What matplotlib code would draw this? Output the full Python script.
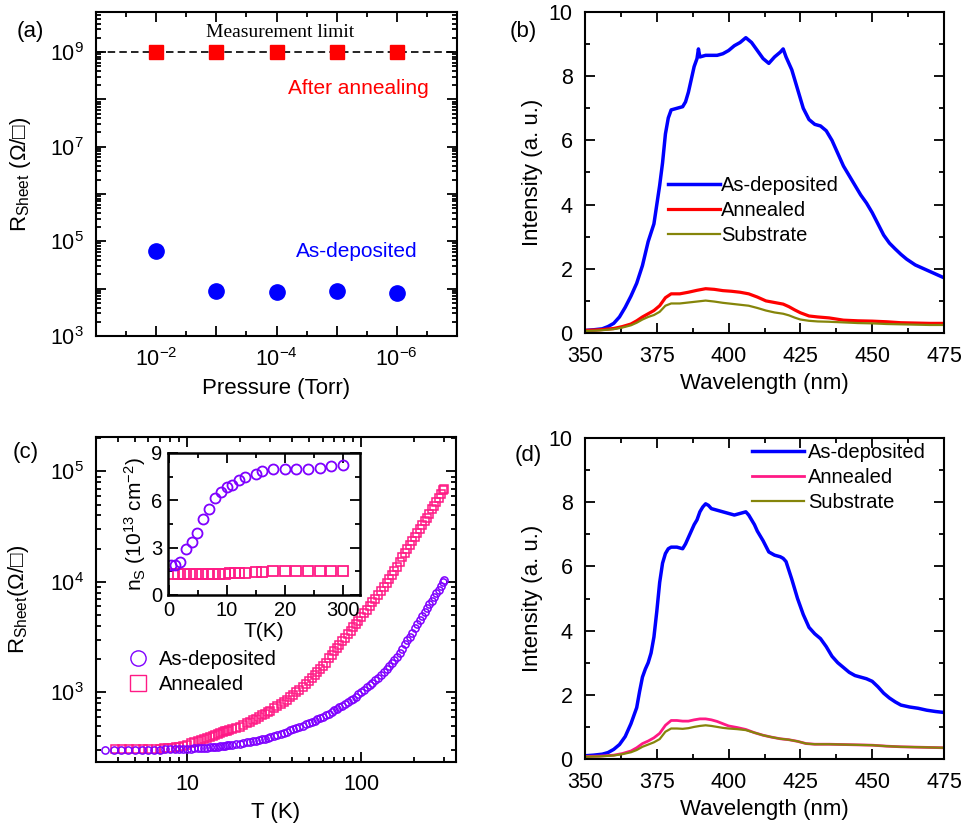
import numpy as np
import matplotlib
matplotlib.use('Agg')
import matplotlib.pyplot as plt
from matplotlib.ticker import FixedLocator, FuncFormatter, MultipleLocator, NullFormatter
from matplotlib.lines import Line2D

plt.rcParams['font.family'] = ['Liberation Sans', 'DejaVu Sans']
plt.rcParams['mathtext.fontset'] = 'custom'
plt.rcParams['mathtext.rm'] = 'Liberation Sans'
plt.rcParams['mathtext.it'] = 'Liberation Sans:italic'
plt.rcParams['mathtext.bf'] = 'Liberation Sans:bold'
plt.rcParams['axes.linewidth'] = 1.5

# ---------------- data ----------------
# (a) sheet resistance vs deposition pressure
pressure = [1e-2, 1e-3, 1e-4, 1e-5, 1e-6]
R_asdep_a = [6.3e4, 9.0e3, 8.4e3, 9.0e3, 8.1e3]
R_anneal_a = [1e9, 1e9, 1e9, 1e9, 1e9]
meas_limit = 1e9

# (b) PL spectra
wl_b = [350, 353, 356, 358, 360, 362, 364, 366, 368, 370, 372, 374, 376, 377, 378,
        379, 380, 382, 384, 385, 386, 387, 388, 389, 389.5, 390, 392, 394, 396, 398,
        400, 402, 404, 406, 408, 410, 412, 414, 416, 418, 419, 420, 422, 424, 426,
        428, 430, 432, 434, 436, 438, 440, 442, 444, 446, 448, 450, 452, 454, 456,
        458, 460, 462, 465, 468, 471, 475]
asdep_b = [0.08, 0.1, 0.13, 0.2, 0.3, 0.5, 0.8, 1.15, 1.55, 2.1, 2.85, 3.4, 4.6, 5.3, 6.2,
           6.7, 6.95, 7.0, 7.05, 7.2, 7.5, 7.9, 8.3, 8.55, 8.85, 8.6, 8.65, 8.65, 8.65, 8.7,
           8.8, 8.95, 9.05, 9.2, 9.05, 8.8, 8.55, 8.4, 8.6, 8.75, 8.85, 8.6, 8.2, 7.6, 7.0,
           6.65, 6.5, 6.45, 6.3, 6.0, 5.6, 5.2, 4.9, 4.6, 4.3, 4.05, 3.75, 3.4, 3.05, 2.8,
           2.62, 2.45, 2.3, 2.12, 2.0, 1.88, 1.72]
wl_b2 = [350, 355, 360, 363, 366, 368, 370, 372, 374, 376, 378, 380, 383, 386, 389,
         392, 395, 398, 401, 404, 407, 410, 413, 416, 419, 421, 423, 425, 428, 431,
         435, 440, 445, 450, 455, 460, 465, 470, 475]
anneal_b = [0.08, 0.1, 0.14, 0.2, 0.28, 0.38, 0.5, 0.6, 0.7, 0.85, 1.1, 1.22, 1.22, 1.27, 1.33,
            1.38, 1.36, 1.32, 1.3, 1.27, 1.22, 1.12, 1.0, 0.95, 0.9, 0.82, 0.72, 0.63, 0.53, 0.5,
            0.47, 0.4, 0.38, 0.37, 0.35, 0.32, 0.31, 0.3, 0.3]
subst_b = [0.06, 0.08, 0.12, 0.17, 0.24, 0.32, 0.42, 0.5, 0.56, 0.66, 0.85, 0.92, 0.92, 0.95, 0.98,
           1.01, 0.98, 0.94, 0.91, 0.88, 0.85, 0.78, 0.7, 0.64, 0.6, 0.55, 0.48, 0.42, 0.38, 0.36,
           0.35, 0.33, 0.31, 0.3, 0.28, 0.27, 0.26, 0.25, 0.25]

# (c) R_sheet vs T
T_asdep = [3.4, 3.8, 4.2, 4.6, 5.0, 5.5, 6.0, 6.5, 7.0, 7.5, 8.0, 8.5, 9.0, 9.5,
           10, 10.5, 11, 11.5, 12, 12.5, 13, 13.5, 14, 14.5,
           15, 15.5, 16, 16.5, 17, 17.5, 18, 19, 20, 21,
           22, 23, 24, 25, 26, 27, 28, 29, 30, 31.5,
           33, 34.5, 36, 37.5, 39, 40.5, 42, 44, 46, 48,
           50, 52, 54, 56, 58, 60, 62.5, 65, 67.5, 70,
           72.5, 75, 78, 81, 84, 87, 90, 93, 96, 100,
           104, 108, 112, 116, 120, 125, 130, 135, 140, 145,
           150, 155, 160, 166, 172, 178, 184, 190, 196, 203,
           210, 217, 224, 231, 238, 246, 254, 262, 270, 278,
           286, 294, 300]
R_asdep = [303, 303, 303, 303, 303, 303, 304, 304, 304, 305, 305, 305, 306, 307,
           308, 310, 312, 313, 314, 315.5, 317, 318, 319, 321,
           323, 325.5, 328, 330, 332, 334.5, 337, 341, 345, 349.5,
           354, 358.5, 363, 367.5, 372, 377.5, 383, 389, 395, 403,
           413, 423, 433, 443, 453, 463, 473, 487, 502, 515,
           528, 542, 556, 572, 588, 604, 624, 644, 667, 690,
           711, 732, 758, 786, 815, 847, 880, 918, 965, 1010,
           1055, 1115, 1170, 1230, 1285, 1360, 1445, 1540, 1640, 1740,
           1855, 1975, 2100, 2280, 2480, 2720, 2960, 3200, 3460, 3800,
           4150, 4550, 4950, 5350, 5800, 6260, 6780, 7330, 7900, 8500,
           9200, 10000, 10500]
T_anneal = [3.85, 4.25, 4.65, 5.1, 5.55, 6.0, 6.6, 7.0, 7.4, 7.8, 8.2, 8.6, 9.0, 9.5,
            10, 10.5, 11, 11.5, 12, 12.5, 13, 13.5, 14, 14.5,
            15, 15.5, 16, 16.5, 17, 17.5, 18, 19, 20, 21,
            22, 23, 24, 25, 26, 27, 28, 29, 30, 31.5,
            33, 34.5, 36, 37.5, 39, 40.5, 42, 44, 46, 48,
            50, 52, 54, 56, 58, 60, 62.5, 65, 67.5, 70,
            72.5, 75, 78, 81, 84, 87, 90, 93, 96, 100,
            104, 108, 112, 116, 120, 125, 130, 135, 140, 145,
            150, 155, 160, 166, 172, 178, 184, 190, 196, 203,
            210, 217, 224, 231, 238, 246, 254, 262, 270, 278,
            286, 294, 300]
R_anneal = [306, 306, 306, 306, 306, 307, 309, 310, 312, 314, 317, 320, 324, 330,
            337, 346, 355, 363, 372, 381, 390, 399, 408, 416,
            424, 431, 438, 444, 450, 456, 463, 477, 490, 508,
            526, 544, 562, 581, 600, 620, 640, 661, 683, 718,
            755, 792, 826, 864, 905, 950, 1000, 1060, 1130, 1205,
            1280, 1360, 1440, 1530, 1620, 1720, 1860, 2040, 2190, 2350,
            2520, 2700, 2920, 3140, 3370, 3620, 3900, 4170, 4440, 4800,
            5200, 5600, 6050, 6530, 7020, 7600, 8250, 8950, 9800, 10650,
            11600, 12650, 13800, 15200, 16700, 18300, 19900, 21500, 23300, 25400,
            27700, 30100, 32700, 35400, 38200, 41600, 45300, 49000, 53300, 57700,
            62300, 67500, 70000]

# (c) inset: carrier density
Tin_asdep = [0.3, 1.0, 1.9, 2.9, 3.9, 4.9, 5.9, 6.95, 8.0, 8.96, 9.95, 10.8, 12.07, 13.1,
             15.0, 16.0, 18.0, 20.0, 22.0, 24.0, 26.0, 28.0, 300]
ns_asdep = [1.9, 1.88, 2.1, 2.9, 3.34, 3.93, 4.8, 5.45, 6.13, 6.53, 6.86, 7.0, 7.29, 7.46,
            7.67, 7.86, 7.98, 8.0, 8.0, 8.0, 8.05, 8.17, 8.24]
Tin_anneal = [0.63, 1.6, 2.6, 3.6, 4.66, 5.6, 6.7, 7.6, 8.7, 9.66, 10.5, 11.4, 12.07, 13.1,
              15.1, 16.0, 18.0, 20.0, 22.0, 24.0, 26.0, 28.0, 300]
ns_anneal = [1.3, 1.3, 1.31, 1.31, 1.32, 1.32, 1.33, 1.34, 1.35, 1.36, 1.37, 1.38, 1.4, 1.42,
             1.46, 1.48, 1.5, 1.52, 1.52, 1.52, 1.52, 1.52, 1.53]
inset_xticks = [0, 10, 20, 300]

# (d) PL spectra
wl_d = [350, 353, 356, 358, 360, 362, 364, 366, 368, 369, 370, 371, 372, 373, 374,
        375, 376, 377, 378, 379, 380, 382, 384, 385, 386, 387, 388, 389, 390, 391,
        392, 393, 394, 396, 398, 400, 402, 404, 406, 407, 408, 409, 410, 412, 414,
        416, 418, 419, 420, 422, 424, 426, 428, 430, 432, 434, 436, 438, 440, 442,
        444, 446, 448, 450, 452, 454, 456, 458, 460, 463, 466, 469, 472, 475]
asdep_d = [0.1, 0.12, 0.15, 0.2, 0.3, 0.45, 0.7, 1.1, 1.6, 2.1, 2.55, 2.8, 3.0, 3.3, 3.8,
           4.6, 5.5, 6.1, 6.4, 6.55, 6.6, 6.6, 6.55, 6.7, 6.9, 7.1, 7.3, 7.45, 7.7, 7.85,
           7.95, 7.9, 7.8, 7.75, 7.7, 7.65, 7.6, 7.65, 7.7, 7.6, 7.45, 7.3, 7.1, 6.8, 6.45,
           6.35, 6.3, 6.25, 6.15, 5.6, 5.0, 4.5, 4.1, 3.9, 3.75, 3.5, 3.2, 3.0, 2.85, 2.7,
           2.6, 2.55, 2.5, 2.42, 2.25, 2.05, 1.9, 1.78, 1.68, 1.62, 1.58, 1.52, 1.48, 1.45]
wl_d2 = [350, 355, 360, 363, 366, 368, 370, 372, 374, 376, 378, 380, 382, 384, 386, 388,
         390, 392, 394, 396, 398, 400, 403, 406, 409, 412, 415, 418, 421, 424, 427, 430,
         435, 440, 445, 450, 455, 460, 465, 470, 475]
anneal_d = [0.08, 0.09, 0.12, 0.17, 0.25, 0.35, 0.48, 0.56, 0.66, 0.8, 1.05, 1.2, 1.2, 1.18, 1.18,
            1.22, 1.25, 1.25, 1.22, 1.17, 1.1, 1.03, 0.98, 0.92, 0.82, 0.74, 0.68, 0.63, 0.6, 0.55,
            0.48, 0.46, 0.46, 0.45, 0.44, 0.43, 0.4, 0.38, 0.37, 0.36, 0.35]
subst_d = [0.07, 0.08, 0.11, 0.15, 0.21, 0.28, 0.38, 0.45, 0.52, 0.62, 0.85, 0.95, 0.95, 0.94, 0.96,
           1.0, 1.03, 1.05, 1.03, 1.0, 0.97, 0.95, 0.93, 0.9, 0.82, 0.74, 0.68, 0.63, 0.6, 0.55,
           0.48, 0.46, 0.46, 0.45, 0.44, 0.43, 0.4, 0.38, 0.37, 0.36, 0.35]

# ---------------- style ----------------
BLUE = '#0000ff'
RED = '#ff0000'
OLIVE = '#85850a'
PURPLE = '#7f00ff'
PINK = '#ff1a85'
TICK_FS = 15.5
LAB_FS = 16

W, H = 964, 826
fig = plt.figure(figsize=(W / 100, H / 100), dpi=100)


def px_axes(l, t, r, b):
    return fig.add_axes([l / W, 1 - b / H, (r - l) / W, (b - t) / H])


def style(ax, pad=9, size=TICK_FS):
    ax.tick_params(which='both', direction='in', top=True, right=True, width=1.3,
                   labelsize=size, pad=pad)
    ax.tick_params(which='major', length=7)
    ax.tick_params(which='minor', length=3.5)


def pow_fmt(show):
    def f(v, pos):
        if v <= 0:
            return ''
        e = int(round(np.log10(v)))
        return r'$10^{%d}$' % e if e in show else ''
    return FuncFormatter(f)


# ---------------- (a) ----------------
axa = px_axes(96, 12, 457, 336)
axa.set_xscale('log')
axa.set_yscale('log')
axa.axhline(meas_limit, color='k', lw=1.2, ls=(0, (4.5, 2.5)))
axa.plot(pressure, R_anneal_a, 's', color=RED, ms=10, zorder=3)
axa.plot(pressure, R_asdep_a, 'o', color=BLUE, ms=11, zorder=3)
axa.set_xlim(1e-1, 1e-7)
axa.set_ylim(1e3, 7e9)
axa.xaxis.set_major_locator(FixedLocator([10.0 ** -k for k in range(1, 8)]))
axa.xaxis.set_minor_locator(FixedLocator([10.0 ** (-k - 0.5) for k in range(1, 7)]))
axa.xaxis.set_major_formatter(pow_fmt({-2, -4, -6}))
axa.xaxis.set_minor_formatter(NullFormatter())
axa.yaxis.set_major_locator(FixedLocator([10.0 ** k for k in range(3, 10)]))
axa.yaxis.set_minor_locator(FixedLocator([m * 10.0 ** k for k in range(3, 10) for m in range(2, 10)]))
axa.yaxis.set_major_formatter(pow_fmt({3, 5, 7, 9}))
axa.yaxis.set_minor_formatter(NullFormatter())
style(axa)
axa.set_xlabel('Pressure (Torr)', fontsize=LAB_FS, labelpad=5)
axa.set_ylabel(r'R$_{\mathrm{Sheet}}$ (Ω/□)', fontsize=LAB_FS)
axa.yaxis.set_label_coords(-0.175, 0.5)
axa.text(0.51, 0.938, 'Measurement limit', transform=axa.transAxes, ha='center', va='center',
         fontsize=14, family='Liberation Serif')
axa.text(0.728, 0.765, 'After annealing', transform=axa.transAxes, ha='center', va='center',
         fontsize=15, color=RED)
axa.text(0.722, 0.262, 'As-deposited', transform=axa.transAxes, ha='center', va='center',
         fontsize=15, color=BLUE)


def spec_axes(ax):
    ax.set_xlim(350, 475)
    ax.set_ylim(0, 10)
    ax.xaxis.set_major_locator(MultipleLocator(25))
    ax.xaxis.set_minor_locator(MultipleLocator(12.5))
    ax.yaxis.set_major_locator(MultipleLocator(2))
    ax.yaxis.set_minor_locator(MultipleLocator(1))
    style(ax)
    ax.set_xlabel('Wavelength (nm)', fontsize=LAB_FS, labelpad=5)
    ax.set_ylabel('Intensity (a. u.)', fontsize=LAB_FS)
    ax.yaxis.set_label_coords(-0.118, 0.5)


# ---------------- (b) ----------------
axb = px_axes(585, 12, 944, 333)
axb.plot(wl_b, asdep_b, color=BLUE, lw=2.5, label='As-deposited')
axb.plot(wl_b2, anneal_b, color=RED, lw=2.3, label='Annealed')
axb.plot(wl_b2, subst_b, color=OLIVE, lw=1.6, label='Substrate')
spec_axes(axb)
axb.legend(loc='upper left', bbox_to_anchor=(0.231, 0.49), frameon=False, fontsize=14.5,
           handlelength=2.6, handletextpad=0.05, labelspacing=0.3, borderpad=0, borderaxespad=0)

# ---------------- (c) ----------------
axc = px_axes(96, 437, 456, 762)
axc.set_xscale('log')
axc.set_yscale('log')
axc.plot(T_anneal, R_anneal, 's', mfc='none', mec=PINK, ms=5.2, mew=1.1)
axc.plot(T_asdep, R_asdep, 'o', mfc='none', mec=PURPLE, ms=5.2, mew=1.1)
axc.set_xlim(3, 350)
axc.set_ylim(235, 2.05e5)
axc.xaxis.set_major_locator(FixedLocator([10, 100]))
axc.xaxis.set_minor_locator(FixedLocator([3, 4, 5, 6, 7, 8, 9, 20, 30, 40, 50, 60, 70, 80, 90, 200, 300]))
axc.xaxis.set_major_formatter(FuncFormatter(lambda v, p: '%d' % v))
axc.xaxis.set_minor_formatter(NullFormatter())
axc.yaxis.set_major_locator(FixedLocator([1e3, 1e4, 1e5]))
axc.yaxis.set_minor_locator(FixedLocator([m * 10.0 ** k for k in range(2, 6) for m in range(2, 10)]))
axc.yaxis.set_major_formatter(pow_fmt({3, 4, 5}))
axc.yaxis.set_minor_formatter(NullFormatter())
style(axc)
axc.set_xlabel('T (K)', fontsize=LAB_FS, labelpad=5)
axc.set_ylabel(r'R$_{\mathrm{Sheet}}$(Ω/□)', fontsize=LAB_FS)
axc.yaxis.set_label_coords(-0.18, 0.5)
hc = [Line2D([], [], ls='none', marker='o', mfc='none', mec=PURPLE, ms=11, mew=1.0),
      Line2D([], [], ls='none', marker='s', mfc='none', mec=PINK, ms=11, mew=1.0)]
axc.legend(hc, ['As-deposited', 'Annealed'], loc='upper left', bbox_to_anchor=(0.09, 0.345),
           frameon=False, fontsize=14.5, handlelength=1.0, handletextpad=0.5,
           labelspacing=0.3, borderpad=0, borderaxespad=0)

# inset
axi = px_axes(168, 453, 360, 595)


def fwd(t):
    t = np.asarray(t, dtype=float)
    return np.where(t <= 28, t, 28 + (t - 28) * 2.0 / 272.0)


def inv(p):
    p = np.asarray(p, dtype=float)
    return np.where(p <= 28, p, 28 + (p - 28) * 136.0)


axi.set_xscale('function', functions=(fwd, inv))
axi.plot(Tin_anneal, ns_anneal, 's', mfc='none', mec=PINK, ms=6.5, mew=1.3)
axi.plot(Tin_asdep, ns_asdep, 'o', mfc='none', mec=PURPLE, ms=7.2, mew=1.3)
axi.set_xlim(-0.2, 708)
axi.set_ylim(0, 9)
axi.xaxis.set_major_locator(FixedLocator(inset_xticks))
axi.xaxis.set_minor_locator(FixedLocator([5, 15, 25]))
axi.xaxis.set_major_formatter(FuncFormatter(lambda v, p: '%d' % round(v)))
axi.xaxis.set_minor_formatter(NullFormatter())
axi.yaxis.set_major_locator(MultipleLocator(3))
axi.yaxis.set_minor_locator(MultipleLocator(1.5))
style(axi, pad=4, size=14.5)
for s in axi.spines.values():
    s.set_linewidth(1.8)
axi.set_xlabel('T(K)', fontsize=15, labelpad=2)
axi.set_ylabel(r'n$_{\mathrm{S}}$ (10$^{13}$ cm$^{-2}$)', fontsize=15, labelpad=2)

# ---------------- (d) ----------------
axd = px_axes(585, 438, 944, 759)
axd.plot(wl_d, asdep_d, color=BLUE, lw=2.5, label='As-deposited')
axd.plot(wl_d2, anneal_d, color=PINK, lw=2.0, label='Annealed')
axd.plot(wl_d2, subst_d, color=OLIVE, lw=1.6, label='Substrate')
spec_axes(axd)
axd.legend(loc='upper left', bbox_to_anchor=(0.465, 0.984), frameon=False, fontsize=14.5,
           handlelength=2.6, handletextpad=0.2, labelspacing=0.3, borderpad=0, borderaxespad=0)

# panel labels
for lab, x, y in [('(a)', 30, 32), ('(b)', 523, 32), ('(c)', 26, 453), ('(d)', 528, 455)]:
    fig.text(x / W, 1 - y / H, lab, ha='center', va='center', fontsize=16)

fig.savefig('out.png', dpi=100)
